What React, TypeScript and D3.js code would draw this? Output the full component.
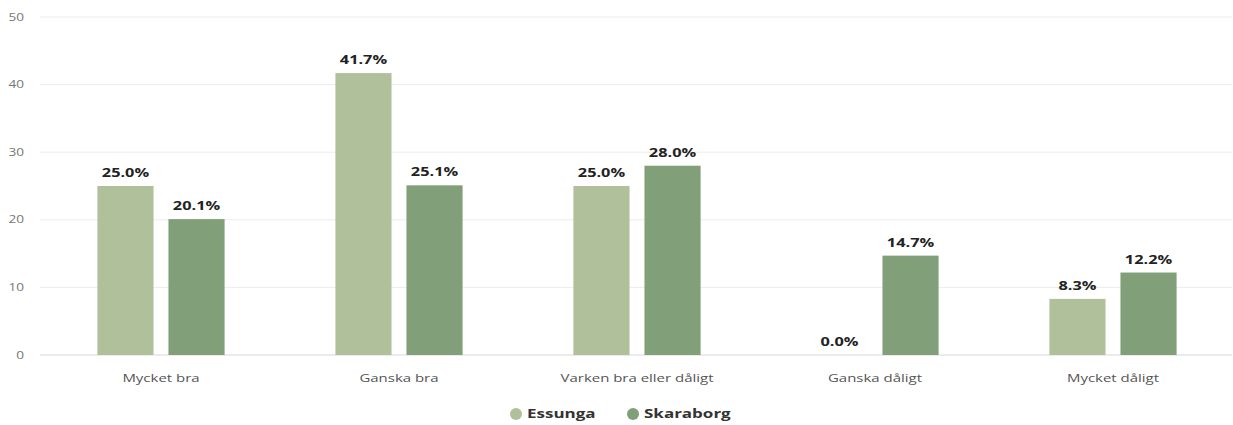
import React from "react";
import * as d3 from "d3";

const categories = ["Mycket bra", "Ganska bra", "Varken bra eller dåligt", "Ganska dåligt", "Mycket dåligt"];
const seriesNames = ["Essunga", "Skaraborg"];
const essunga = [25.0, 41.7, 25.0, 0.0, 8.3];
const skaraborg = [20.1, 25.1, 28.0, 14.7, 12.2];
const yTicks = [0, 10, 20, 30, 40, 50];
const colors = ["#b0c09a", "#819f79"];

const W = 1233;
const H = 425;
const margin = { left: 42, right: 1, top: 17, bottom: 70 };
const SX = 1.36;

function T(props: { x: number; y: number; anchor?: string; size: number; weight?: number; fill: string; children: React.ReactNode }) {
  return (
    <text
      transform={`translate(${props.x},${props.y}) scale(${SX},1)`}
      textAnchor={props.anchor || "start"}
      fontSize={props.size}
      fontWeight={props.weight || 400}
      fill={props.fill}
    >
      {props.children}
    </text>
  );
}

export default function App() {
  const x0 = d3.scaleBand<string>().domain(categories).range([margin.left, W - margin.right]).paddingInner(0).paddingOuter(0);
  const x1 = d3.scaleBand<string>().domain(seriesNames).range([0, x0.bandwidth()]).paddingInner(0.21).paddingOuter(0.78);
  const y = d3.scaleLinear().domain([0, 50]).range([H - margin.bottom, margin.top]);
  const series = [essunga, skaraborg];

  return (
    <svg width={W} height={H} style={{ position: "absolute", left: 0, top: 0, background: "#fff", fontFamily: "'Open Sans', 'Noto Sans', sans-serif" }}>
      {yTicks.map((t) => (
        <g key={t}>
          <line x1={40} x2={W - margin.right} y1={y(t)} y2={y(t)} stroke={t === 0 ? "#d8d8d8" : "#ececec"} strokeWidth={1} />
          <T x={24} y={y(t) + 3.5} anchor="end" size={10} fill="#777">{t}</T>
        </g>
      ))}
      {categories.map((c, i) => (
        <g key={c}>
          {series.map((s, j) => {
            const bx = (x0(c) as number) + (x1(seriesNames[j]) as number);
            const by = y(s[i]);
            return (
              <g key={j}>
                <rect x={bx} y={by} width={x1.bandwidth()} height={y(0) - by} fill={colors[j]} />
                <T x={bx + x1.bandwidth() / 2} y={by - 9} anchor="middle" size={12} weight={700} fill="#222">
                  {s[i].toFixed(1) + "%"}
                </T>
              </g>
            );
          })}
          <T x={(x0(c) as number) + x0.bandwidth() / 2} y={382} anchor="middle" size={11} fill="#555">{c}</T>
        </g>
      ))}
      {seriesNames.map((n, j) => {
        const lx = j === 0 ? 516 : 633;
        return (
          <g key={n}>
            <circle cx={lx} cy={414} r={6} fill={colors[j]} />
            <T x={lx + 11} y={418} size={12.5} weight={700} fill="#333">{n}</T>
          </g>
        );
      })}
    </svg>
  );
}
